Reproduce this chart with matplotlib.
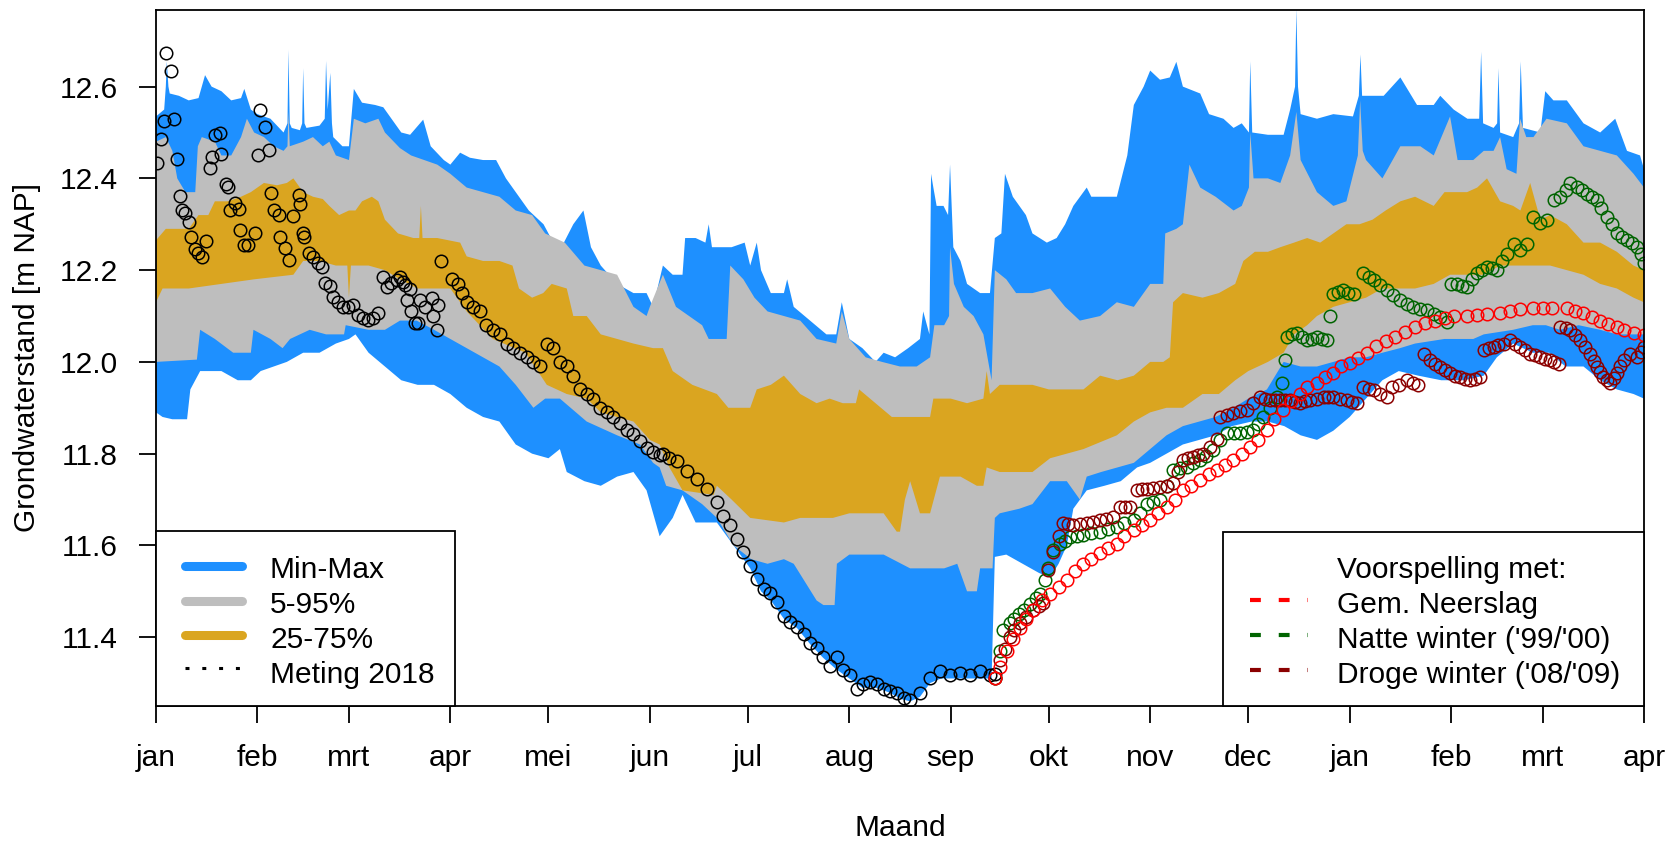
import numpy as np
import matplotlib.pyplot as plt
from matplotlib.patches import Rectangle
from matplotlib.lines import Line2D

plt.rcParams['font.family'] = ['Liberation Sans', 'DejaVu Sans']

# x as days since 1 jan 2018
month_start = [0, 31, 59, 90, 120, 151, 181, 212, 243, 273, 304, 334, 365, 396, 424, 455]
month_label = ['jan', 'feb', 'mrt', 'apr', 'mei', 'jun', 'jul', 'aug', 'sep', 'okt',
               'nov', 'dec', 'jan', 'feb', 'mrt', 'apr']
y_ticks = [11.4, 11.6, 11.8, 12.0, 12.2, 12.4, 12.6]

# Min-Max band
max_d = [0, 2.5, 3.0, 3.3, 3.8, 4.2, 7, 10, 13, 15, 17, 20, 23, 26, 27, 29, 31, 35, 39, 40.2, 40.5, 40.9,
         41.5, 44, 44.7, 45, 45.4, 46, 50, 51.6, 52, 52.5, 53.3, 53.8, 54.2, 57, 59, 60.5, 63, 67, 69.5,
         71.5, 75, 77.7, 81.7, 84, 88, 90, 93, 96, 100, 104, 107, 110, 114, 118.5, 121.5, 124, 127.6,
         130.7, 133, 136, 141, 146, 150, 152, 155, 158, 161, 161.8, 165, 168, 169, 170, 174.5, 176, 180,
         181.7, 183.7, 185, 188, 192, 193, 195, 200, 205, 208, 209.7, 212, 216, 220, 222.5, 226, 230,
         233.6, 234.6, 236.5, 237.0, 237.7, 238.7, 240.8, 242.2, 242.8, 243.8, 246, 248, 252, 255, 256.5,
         258.5, 259.6, 262, 266, 268, 272.4, 275.4, 278, 280.5, 284.6, 286, 288.7, 293.8, 297, 299, 302,
         304, 307, 310, 312, 314, 319.3, 322, 326.4, 329.5, 332, 334.2, 334.6, 335.2, 340, 344.8, 346.8,
         348.3, 348.7, 349.2, 350, 355, 360, 366, 367.8, 368.3, 368.8, 370.3, 375.4, 380.5, 385.6, 390.7,
         392.7, 396.8, 401, 404.6, 405.2, 405.8, 409, 410.1, 410.5, 411, 415, 416.8, 417.3, 418, 423.3,
         424.8, 427.3, 431.4, 436.5, 441.6, 446.2, 449.8, 453.8, 455]
max_v = [12.535, 12.55, 12.60, 12.655, 12.60, 12.585, 12.58, 12.57, 12.575, 12.625, 12.60, 12.59, 12.57,
         12.575, 12.595, 12.55, 12.54, 12.53, 12.50, 12.52, 12.68, 12.52, 12.51, 12.505, 12.52, 12.64,
         12.52, 12.51, 12.515, 12.53, 12.656, 12.55, 12.63, 12.52, 12.49, 12.47, 12.47, 12.595, 12.565,
         12.56, 12.555, 12.535, 12.50, 12.495, 12.528, 12.47, 12.44, 12.43, 12.456, 12.445, 12.44, 12.44,
         12.40, 12.37, 12.33, 12.30, 12.26, 12.25, 12.30, 12.33, 12.25, 12.21, 12.17, 12.15, 12.15, 12.12,
         12.21, 12.19, 12.19, 12.27, 12.27, 12.26, 12.30, 12.25, 12.25, 12.25, 12.26, 12.21, 12.26, 12.20,
         12.15, 12.15, 12.18, 12.12, 12.09, 12.06, 12.06, 12.13, 12.05, 12.03, 12.00, 12.02, 12.01, 12.03,
         12.05, 12.11, 12.06, 12.41, 12.38, 12.34, 12.34, 12.32, 12.43, 12.25, 12.22, 12.17, 12.15, 12.15,
         12.27, 12.28, 12.41, 12.36, 12.32, 12.28, 12.26, 12.27, 12.30, 12.34, 12.38, 12.36, 12.36, 12.36,
         12.45, 12.56, 12.60, 12.635, 12.615, 12.62, 12.654, 12.60, 12.585, 12.54, 12.53, 12.51, 12.52,
         12.50, 12.655, 12.50, 12.495, 12.495, 12.55, 12.60, 12.77, 12.60, 12.54, 12.53, 12.54, 12.535,
         12.58, 12.67, 12.58, 12.58, 12.58, 12.62, 12.56, 12.56, 12.58, 12.55, 12.53, 12.53, 12.676, 12.52,
         12.51, 12.52, 12.64, 12.50, 12.49, 12.52, 12.655, 12.51, 12.50, 12.59, 12.57, 12.57, 12.52, 12.50,
         12.53, 12.46, 12.45, 12.42]
min_d = [0, 2, 5, 9.5, 10.5, 12, 13.5, 20, 25, 29, 32, 40, 45, 50, 55, 59, 61, 65, 70, 75, 80, 85, 90,
         95, 100, 105, 110, 115, 120, 123.5, 125.6, 131, 136, 141, 146, 150, 152, 154, 158, 161, 165,
         171.5, 176.6, 181.7, 185, 188, 192, 196, 200, 204, 208, 212, 216, 220, 224, 228, 230.6, 233.6,
         236.7, 240, 245, 250, 255.5, 256.5, 260, 265, 270, 273.4, 276, 278.5, 280.5, 284.6, 290, 295, 300,
         304, 309, 314, 319, 324, 329, 335, 340, 345, 350, 355, 360, 365, 370, 375, 380, 386, 393, 400,
         406, 410, 415, 421, 426, 431, 436.5, 441.6, 446.7, 451.8, 455]
min_v = [11.89, 11.88, 11.875, 11.875, 11.94, 11.96, 11.98, 11.98, 11.96, 11.96, 11.98, 12.00, 12.02,
         12.02, 12.04, 12.05, 12.06, 12.02, 11.99, 11.96, 11.95, 11.95, 11.93, 11.90, 11.88, 11.87, 11.82,
         11.80, 11.79, 11.81, 11.76, 11.74, 11.73, 11.75, 11.76, 11.72, 11.67, 11.62, 11.66, 11.71, 11.65,
         11.65, 11.60, 11.55, 11.50, 11.48, 11.44, 11.42, 11.385, 11.355, 11.33, 11.31, 11.29, 11.29, 11.28,
         11.265, 11.26, 11.27, 11.30, 11.31, 11.31, 11.31, 11.31, 11.575, 11.58, 11.56, 11.54, 11.53,
         11.56, 11.60, 11.68, 11.72, 11.73, 11.74, 11.77, 11.78, 11.80, 11.82, 11.83, 11.84, 11.86, 11.87,
         11.87, 11.86, 11.84, 11.83, 11.85, 11.88, 11.92, 11.96, 11.98, 11.97, 11.96, 11.96, 11.97, 12.01,
         12.04, 12.02, 12.02, 11.99, 11.99, 11.96, 11.94, 11.93, 11.92]

# 5-95% band
p95_d = [0, 3, 5, 6.5, 9, 12, 12.8, 14, 18, 20, 23, 26, 27.8, 30, 33, 36, 39, 40.2, 40.5, 40.9, 45, 48,
         51, 53, 55, 59, 60.5, 64, 68, 70, 74.6, 78, 82, 86, 90, 95, 100, 105, 110, 115, 119, 125, 131,
         136, 141, 146, 150, 151, 155, 159, 163, 167, 169, 174.5, 175.6, 179.6, 183, 187, 192, 197, 202,
         208, 209.7, 212, 217, 222, 227.5, 232.6, 236.7, 238, 241, 242.5, 242.8, 244, 247, 250, 253,
         255.5, 256.5, 260, 263, 268, 273.4, 278, 282.5, 288.7, 293.8, 299, 304, 308, 308.6, 312, 314,
         316, 319.3, 324, 329.5, 332, 334.2, 334.6, 335.6, 340, 343.8, 346.8, 348.7, 350, 355, 360, 364,
         367.5, 368.2, 369, 370, 375, 380.5, 386.6, 390.7, 395.7, 398, 402.8, 406, 409, 411, 413, 416,
         417.1, 419, 421.2, 425.2, 431.4, 436.5, 441.6, 446.7, 451.8, 455]
p95_v = [12.48, 12.49, 12.46, 12.40, 12.37, 12.37, 12.47, 12.49, 12.48, 12.45, 12.45, 12.49, 12.53,
         12.50, 12.49, 12.47, 12.46, 12.47, 12.545, 12.47, 12.48, 12.49, 12.47, 12.48, 12.45, 12.44, 12.53,
         12.52, 12.53, 12.50, 12.466, 12.45, 12.44, 12.43, 12.41, 12.38, 12.37, 12.36, 12.33, 12.32, 12.28,
         12.26, 12.21, 12.20, 12.19, 12.12, 12.10, 12.12, 12.19, 12.12, 12.10, 12.08, 12.05, 12.05, 12.21,
         12.18, 12.14, 12.11, 12.10, 12.09, 12.05, 12.04, 12.11, 12.05, 12.01, 12.00, 11.99, 11.99, 12.01,
         12.08, 12.08, 12.10, 12.25, 12.17, 12.12, 12.10, 12.06, 11.96, 12.20, 12.18, 12.15, 12.15, 12.16,
         12.12, 12.09, 12.10, 12.13, 12.12, 12.17, 12.17, 12.28, 12.29, 12.30, 12.43, 12.38, 12.36, 12.33,
         12.34, 12.38, 12.50, 12.40, 12.40, 12.39, 12.45, 12.545, 12.44, 12.37, 12.34, 12.35, 12.45, 12.57,
         12.46, 12.44, 12.40, 12.47, 12.47, 12.45, 12.535, 12.44, 12.44, 12.46, 12.46, 12.49, 12.42, 12.41,
         12.53, 12.49, 12.49, 12.53, 12.52, 12.47, 12.46, 12.45, 12.41, 12.38]
p05_d = [0, 12.5, 13.5, 18, 23.6, 29, 29.8, 35, 38.7, 41, 47, 52, 57.5, 58, 65, 70, 74.6, 79.7, 85, 95,
         105, 110, 115.4, 119, 123.5, 131.7, 141, 148, 152, 154, 156, 161, 167, 171.5, 176.6, 182, 187,
         192, 195, 202, 204.1, 207.5, 208.2, 212, 222.5, 230.6, 236, 241, 245, 248, 251, 252, 255.8, 256.5,
         258, 264, 268, 273.4, 278.5, 282.5, 284.6, 289, 294, 299, 304, 309, 314, 319, 324, 329.5, 334,
         339.7, 344.8, 350, 355, 360, 365, 370, 375, 380.4, 385, 394, 402.8, 406, 415, 421, 425, 429.3,
         435, 441.6, 446.7, 451.8, 455]
p05_v = [12.00, 12.005, 12.07, 12.05, 12.02, 12.02, 12.07, 12.05, 12.03, 12.05, 12.07, 12.06, 12.06,
         12.08, 12.07, 12.07, 12.09, 12.09, 12.07, 12.03, 11.99, 11.95, 11.90, 11.92, 11.92, 11.87, 11.84,
         11.82, 11.78, 11.77, 11.73, 11.72, 11.69, 11.66, 11.60, 11.57, 11.56, 11.57, 11.56, 11.48, 11.47,
         11.47, 11.56, 11.58, 11.58, 11.55, 11.55, 11.55, 11.56, 11.50, 11.50, 11.55, 11.55, 11.66, 11.67,
         11.68, 11.69, 11.74, 11.74, 11.70, 11.75, 11.76, 11.77, 11.78, 11.81, 11.84, 11.86, 11.87, 11.88,
         11.90, 11.92, 11.94, 12.00, 11.99, 11.99, 12.00, 12.01, 12.01, 12.02, 12.03, 12.04, 12.05, 12.05,
         12.06, 12.07, 12.08, 12.08, 12.07, 12.08, 12.07, 12.06, 12.06, 12.06]

# 25-75% band
p75_d = [0, 3, 10, 13, 16, 18, 22, 26, 29, 33, 37, 40, 42, 45, 48, 51, 53, 56, 59, 61, 63, 66, 68, 70,
         74, 78.7, 80.5, 81, 81.5, 86, 93, 95, 100, 105, 109, 111, 115, 118.4, 121, 125.6, 127.6, 131.7,
         136, 141, 146, 152, 155, 158, 164, 171.5, 175, 181.7, 183.7, 188, 192, 197, 202, 206, 210, 214,
         215, 220, 225, 231, 236.7, 237.7, 243, 248, 253, 254, 255, 258, 263, 268, 273, 278, 283.6, 288.7,
         294, 299, 304, 308, 310, 311, 314, 320, 325, 330, 332.5, 336, 340, 343.8, 348, 352, 356, 360,
         364, 368, 372, 376, 380.5, 385, 390.7, 394, 400.9, 404, 407, 411, 415, 417.2, 420.2, 423.3,
         426.3, 431.4, 436.5, 441.6, 446.7, 451.8, 455]
p75_v = [12.265, 12.29, 12.29, 12.32, 12.32, 12.35, 12.35, 12.36, 12.37, 12.39, 12.385, 12.39, 12.40,
         12.37, 12.36, 12.355, 12.34, 12.32, 12.33, 12.33, 12.35, 12.36, 12.35, 12.31, 12.28, 12.27, 12.27,
         12.34, 12.27, 12.27, 12.26, 12.23, 12.22, 12.22, 12.21, 12.16, 12.14, 12.15, 12.17, 12.16, 12.10,
         12.10, 12.06, 12.05, 12.04, 12.03, 12.03, 11.98, 11.95, 11.93, 11.90, 11.90, 11.94, 11.95, 11.97,
         11.93, 11.91, 11.92, 11.91, 11.91, 11.94, 11.91, 11.88, 11.88, 11.88, 11.92, 11.92, 11.91, 11.92,
         11.98, 11.93, 11.95, 11.95, 11.95, 11.94, 11.94, 11.94, 11.97, 11.96, 11.97, 12.00, 12.00, 12.01,
         12.13, 12.15, 12.14, 12.15, 12.17, 12.22, 12.24, 12.24, 12.25, 12.26, 12.27, 12.26, 12.28, 12.30,
         12.30, 12.31, 12.33, 12.35, 12.36, 12.34, 12.37, 12.37, 12.38, 12.40, 12.35, 12.34, 12.33, 12.39,
         12.31, 12.32, 12.30, 12.26, 12.26, 12.24, 12.21, 12.20]
p25_d = [0, 2, 10, 20, 30, 42, 45, 50, 55, 58.5, 59, 59.6, 65, 70, 74.6, 80, 90, 95, 103, 113, 119.5,
         125.6, 131.7, 136, 146, 151, 154, 157, 161, 170.5, 171.5, 176, 181.7, 192, 197, 207, 212, 222.5,
         226.5, 227.5, 229, 230.6, 233.6, 236.7, 239.7, 246, 251, 253, 254, 258, 268, 273.4, 283.6, 293.8,
         299, 304, 309, 314, 320, 325, 330, 334, 340, 344.8, 348, 352, 355, 360, 365, 370, 375, 380.5, 385,
         390.7, 395.7, 400.9, 405.9, 411, 416, 421.2, 426.3, 431.4, 436.5, 441.6, 446.7, 451.8, 455]
p25_v = [12.13, 12.16, 12.16, 12.17, 12.18, 12.19, 12.22, 12.22, 12.21, 12.21, 12.14, 12.21, 12.21,
         12.20, 12.18, 12.16, 12.16, 12.11, 12.05, 12.02, 11.95, 11.93, 11.92, 11.89, 11.87, 11.83, 11.82,
         11.77, 11.72, 11.71, 11.73, 11.70, 11.66, 11.65, 11.66, 11.66, 11.67, 11.67, 11.63, 11.63, 11.70,
         11.74, 11.67, 11.67, 11.75, 11.75, 11.73, 11.73, 11.77, 11.76, 11.76, 11.79, 11.81, 11.84, 11.87,
         11.89, 11.90, 11.90, 11.93, 11.93, 11.96, 11.98, 12.00, 12.02, 12.06, 12.08, 12.10, 12.12, 12.13,
         12.14, 12.16, 12.16, 12.16, 12.17, 12.19, 12.19, 12.19, 12.21, 12.21, 12.21, 12.21, 12.20, 12.19,
         12.17, 12.16, 12.14, 12.13]

# Meting 2018
meting_d = [0.2, 1.4, 2.4, 3.1, 4.5, 5.5, 6.5, 7.3, 7.9, 8.9, 10.1, 10.7, 11.9, 12.9, 14.0, 15.2, 16.5,
            17.0, 18.0, 19.6, 19.8, 21.3, 22.1, 22.6, 24.2, 25.5, 25.7, 26.9, 28.2, 30.3, 31.3, 31.8, 33.3,
            34.7, 35.1, 36.1, 37.5, 37.9, 39.4, 40.8, 42.0, 43.6, 44.0, 45.0, 45.4, 46.9, 48.1, 49.6, 50.7,
            51.7, 53.2, 54.2, 55.8, 57.3, 58.8, 60.3, 61.8, 63.4, 64.9, 66.5, 68.0, 69.3, 70.7, 72.0, 73.6,
            74.6, 75.6, 76.1, 76.7, 77.7, 78.0, 79.2, 80.2, 80.7, 82.2, 84.3, 84.8, 85.8, 86.3, 87.3, 90.4,
            92.4, 93.5, 95, 97, 99, 101, 103.1, 105.2, 107.2, 109.3, 111.3, 113.3, 115.4, 117.4, 119.5,
            121.5, 123.5, 125.6, 127.6, 129.6, 131.7, 133.7, 135.8, 137.8, 139.8, 141.9, 143.9, 146, 148,
            150, 152.1, 154.1, 155, 157, 159.3, 162.3, 165.4, 168.4, 171.5, 173.5, 175.6, 177.6, 179.6,
            181.7, 183.7, 185.8, 187.8, 189.8, 191.9, 193.9, 196, 198, 200, 202, 204, 206.1, 208.2, 210.2,
            212.3, 214.3, 216.3, 218.4, 220.4, 222.5, 224.5, 226.5, 228.6, 230.6, 233.6, 236.7, 239.7,
            242.8, 245.8, 248.9, 252, 255, 256.5]
meting_v = [12.434, 12.486, 12.526, 12.673, 12.633, 12.529, 12.442, 12.362, 12.331, 12.324, 12.304,
            12.273, 12.246, 12.237, 12.229, 12.264, 12.422, 12.447, 12.495, 12.498, 12.453, 12.387, 12.382,
            12.330, 12.346, 12.333, 12.288, 12.255, 12.255, 12.280, 12.451, 12.549, 12.513, 12.462, 12.368,
            12.330, 12.320, 12.272, 12.248, 12.222, 12.317, 12.364, 12.344, 12.280, 12.272, 12.237, 12.229,
            12.215, 12.207, 12.171, 12.165, 12.142, 12.131, 12.120, 12.120, 12.124, 12.102, 12.095, 12.091,
            12.095, 12.106, 12.186, 12.164, 12.171, 12.179, 12.186, 12.174, 12.168, 12.135, 12.159, 12.110,
            12.084, 12.085, 12.135, 12.120, 12.140, 12.100, 12.070, 12.125, 12.219, 12.18, 12.17, 12.15,
            12.13, 12.12, 12.11, 12.08, 12.07, 12.06, 12.04, 12.03, 12.02, 12.01, 12.00, 11.99, 12.04,
            12.03, 12.00, 11.99, 11.97, 11.94, 11.93, 11.92, 11.90, 11.89, 11.88, 11.867, 11.852, 11.842,
            11.828, 11.813, 11.803, 11.798, 11.80, 11.79, 11.783, 11.763, 11.744, 11.724, 11.694, 11.664,
            11.645, 11.615, 11.585, 11.555, 11.526, 11.506, 11.496, 11.476, 11.446, 11.432, 11.422, 11.407,
            11.387, 11.377, 11.357, 11.338, 11.357, 11.328, 11.318, 11.288, 11.298, 11.303, 11.298, 11.288,
            11.283, 11.278, 11.268, 11.263, 11.278, 11.31, 11.327, 11.318, 11.323, 11.318, 11.327, 11.318,
            11.32]

# Voorspelling: gemiddelde neerslag
gem_d = [256.5, 258, 260.1, 262, 264.2, 266, 268.3, 271, 273.4, 276, 278.5, 281, 283.6, 286, 288.7, 291,
         293.8, 296, 298.9, 301.5, 304, 306.5, 309, 311.5, 314.1, 316.5, 319.2, 322, 324.3, 327, 329.4,
         332, 334.5, 337, 339.6, 342, 344.7, 347, 349.8, 352, 354.9, 357.5, 360, 362.5, 365.1, 367.5,
         370.2, 373, 376, 379, 382, 385, 388, 391, 394, 397, 400.9, 404, 407, 411, 414, 417, 421.2, 424,
         427, 431.4, 434, 436.5, 439, 441.6, 444, 446.7, 449, 451.8, 455]
gem_v = [11.31, 11.335, 11.37, 11.395, 11.42, 11.44, 11.46, 11.48, 11.495, 11.51, 11.524, 11.545, 11.56,
         11.57, 11.583, 11.595, 11.604, 11.62, 11.633, 11.645, 11.655, 11.67, 11.684, 11.70, 11.721,
         11.73, 11.742, 11.755, 11.764, 11.775, 11.786, 11.80, 11.815, 11.83, 11.852, 11.875, 11.895,
         11.915, 11.931, 11.945, 11.955, 11.968, 11.975, 11.99, 11.997, 12.008, 12.02, 12.035, 12.045,
         12.055, 12.065, 12.075, 12.085, 12.09, 12.095, 12.10, 12.10, 12.103, 12.105, 12.106, 12.11,
         12.115, 12.117, 12.118, 12.118, 12.117, 12.112, 12.106, 12.098, 12.09, 12.082, 12.077, 12.07,
         12.062, 12.058]

# Voorspelling: natte winter ('99/'00)
nat_d = [256.5, 258, 259, 261, 262.5, 264, 265.5, 267.3, 269, 270.3, 271.8, 272.9, 274.4, 276.4, 278,
         279.5, 281.5, 283.6, 286, 288.7, 291, 293.8, 296, 298.9, 301, 303, 305, 307, 309, 311.1, 313,
         315.2, 317, 319.2, 321, 323.3, 325.5, 327.4, 329.5, 331.5, 333.5, 335.5, 337, 338.6, 340.6, 342.7,
         344.2, 345.2, 345.8, 347.4, 348.9, 350.4, 351.9, 353.5, 355, 356.5, 358, 359, 360, 361.5, 363.1,
         364.6, 366.2, 369.2, 370.8, 372.3, 374.4, 376.4, 378.4, 380.5, 382.5, 384.5, 386.6, 388.6, 390.7,
         392.7, 394.7, 396, 397.8, 399.5, 400.9, 402.5, 403.9, 405.5, 407, 408.5, 410, 411.5, 413, 415.1,
         417.2, 419.2, 421.2, 423.3, 425.3, 427.4, 429.4, 431, 432.5, 434.5, 436, 437.5, 439, 440.6, 442,
         443.7, 445.2, 446.7, 448.3, 449.8, 451.3, 452.8, 454, 455]
nat_v = [11.31, 11.37, 11.415, 11.43, 11.44, 11.45, 11.46, 11.473, 11.485, 11.495, 11.524, 11.55, 11.59,
         11.604, 11.61, 11.619, 11.62, 11.622, 11.626, 11.63, 11.635, 11.64, 11.648, 11.655, 11.67, 11.69,
         11.695, 11.70, 11.73, 11.764, 11.768, 11.772, 11.78, 11.786, 11.795, 11.808, 11.83, 11.844,
         11.844, 11.844, 11.848, 11.852, 11.865, 11.88, 11.90, 11.924, 11.953, 12.004, 12.055, 12.06,
         12.062, 12.055, 12.047, 12.05, 12.055, 12.05, 12.047, 12.10, 12.149, 12.152, 12.156, 12.15,
         12.149, 12.193, 12.185, 12.178, 12.167, 12.156, 12.145, 12.135, 12.127, 12.12, 12.116, 12.113,
         12.105, 12.098, 12.087, 12.17, 12.17, 12.165, 12.164, 12.18, 12.193, 12.20, 12.207, 12.205, 12.20,
         12.22, 12.236, 12.258, 12.244, 12.258, 12.316, 12.302, 12.309, 12.353, 12.36, 12.375, 12.389,
         12.382, 12.375, 12.367, 12.36, 12.353, 12.335, 12.316, 12.30, 12.28, 12.272, 12.266, 12.26,
         12.251, 12.235, 12.215]

# Voorspelling: droge winter ('08/'09)
droog_d = [256.5, 258, 259.5, 261, 262.5, 264.2, 266, 268.3, 270, 271.3, 272.9, 274.4, 276, 277.4, 279,
           280.5, 282.5, 284.6, 286.5, 288.7, 290.5, 292.7, 294.8, 296.3, 297.8, 299.9, 301.5, 302.9, 305,
           307, 309, 311.1, 312.5, 314.1, 315.5, 317.2, 318.7, 320.3, 322.3, 324.3, 325.4, 327.4, 329.4,
           331.5, 333.5, 335.5, 337.6, 339.1, 340.6, 342.2, 343.7, 345.2, 346.8, 348.3, 349.8, 351.3,
           352.9, 355, 357, 358.5, 360, 362, 364.1, 365.6, 367.2, 369.2, 370.8, 372.3, 374.3, 376.3, 378,
           380, 382.5, 384.5, 386, 387.6, 389.6, 391, 392.7, 394.2, 395.8, 397.3, 398.8, 400.4, 401.9,
           403.4, 404.9, 406, 407.5, 409, 410.5, 412.1, 414.1, 415.6, 417.2, 418.7, 420.2, 421.7, 423.3,
           424.8, 426.3, 427.6, 428.9, 429.4, 431, 432.5, 434, 435.5, 437, 438.6, 439.6, 440.6, 441.6,
           442.6, 443.6, 444.7, 445.7, 446.7, 447.8, 448.8, 450.8, 452.8, 454, 455]
droog_v = [11.31, 11.35, 11.375, 11.40, 11.415, 11.43, 11.445, 11.46, 11.468, 11.474, 11.546, 11.586,
           11.62, 11.648, 11.646, 11.644, 11.646, 11.648, 11.652, 11.655, 11.658, 11.662, 11.684, 11.684,
           11.684, 11.721, 11.722, 11.724, 11.726, 11.728, 11.73, 11.735, 11.76, 11.786, 11.79, 11.793,
           11.797, 11.80, 11.815, 11.833, 11.88, 11.885, 11.888, 11.892, 11.895, 11.91, 11.924, 11.92,
           11.917, 11.917, 11.917, 11.917, 11.917, 11.913, 11.91, 11.914, 11.917, 11.92, 11.924, 11.924,
           11.924, 11.92, 11.917, 11.913, 11.91, 11.946, 11.942, 11.939, 11.93, 11.924, 11.945, 11.95,
           11.96, 11.953, 11.95, 12.018, 12.004, 11.995, 11.989, 11.982, 11.975, 11.97, 11.967, 11.963,
           11.96, 11.963, 11.967, 12.026, 12.03, 12.033, 12.037, 12.04, 12.047, 12.04, 12.033, 12.025,
           12.018, 12.015, 12.011, 12.007, 12.004, 12.0, 11.996, 12.077, 12.073, 12.069, 12.058, 12.047,
           12.032, 12.018, 12.003, 11.989, 11.978, 11.967, 11.96, 11.953, 11.964, 11.975, 11.99, 12.004,
           12.018, 12.011, 12.022, 12.033]

W, H = 1679, 842
L, R, T, B = 156, 1644, 10, 706
fs = 21.5

fig = plt.figure(figsize=(W / 100, H / 100), dpi=100)
ax = fig.add_axes([L / W, 1 - B / H, (R - L) / W, (B - T) / H])


def band(lo_d, lo_v, hi_d, hi_v, color):
    x = np.r_[hi_d, lo_d[::-1]]
    y = np.r_[hi_v, lo_v[::-1]]
    ax.fill(x, y, color=color, linewidth=0)


band(min_d, min_v, max_d, max_v, 'dodgerblue')
band(p05_d, p05_v, p95_d, p95_v, '#BEBEBE')
band(p25_d, p25_v, p75_d, p75_v, 'goldenrod')

mk = dict(ls='none', marker='o', mfc='none', ms=9, mew=1.1)
ax.plot(meting_d, meting_v, mec='black', **mk)
ax.plot(nat_d, nat_v, mec='darkgreen', **mk)
ax.plot(droog_d, droog_v, mec='darkred', **mk)
ax.plot(gem_d, gem_v, mec='red', **mk)

ax.set_xlim(0, 455)
ax.set_ylim(11.25, 12.767)
ax.set_xticks(month_start)
ax.set_xticklabels(month_label)
ax.set_yticks(y_ticks)
ax.set_yticklabels(['%.1f' % v for v in y_ticks])
ax.tick_params(direction='out', length=12.5, width=1.3, labelsize=fs, colors='black')
ax.tick_params(axis='x', pad=15)
ax.tick_params(axis='y', pad=15)
for s in ax.spines.values():
    s.set_linewidth(1.3)

ax.set_xlabel('Maand', fontsize=fs)
ax.xaxis.set_label_coords(0.5, (B - 828) / (B - T))
ax.xaxis.label.set_verticalalignment('center')
ax.set_ylabel('Grondwaterstand [m NAP]', fontsize=fs)
ax.yaxis.set_label_coords((27.5 - L) / (R - L), 0.5)
ax.yaxis.label.set_verticalalignment('center')


# legends, drawn in image pixel coordinates
def fx(x):
    return x / W


def fy(y):
    return 1 - y / H


def legend_box(x0, y0, x1, y1):
    fig.patches.append(Rectangle((fx(x0), fy(y1)), fx(x1) - fx(x0), fy(y0) - fy(y1),
                                 transform=fig.transFigure, facecolor='white',
                                 edgecolor='black', linewidth=1.3, zorder=5))


def legend_line(x0, x1, y, **kw):
    fig.lines.append(Line2D([fx(x0), fx(x1)], [fy(y), fy(y)], transform=fig.transFigure,
                            zorder=6, **kw))


legend_box(L, 531, 455, B)
legend_line(185, 242, 566, color='dodgerblue', lw=6.5, solid_capstyle='round')
legend_line(185, 242, 601, color='#BEBEBE', lw=6.5, solid_capstyle='round')
legend_line(185, 242, 635, color='goldenrod', lw=6.5, solid_capstyle='round')
legend_line(185, 240, 668, color='black', lw=2.2, dashes=(1.3, 4.2))
for lab, yb in zip(['Min-Max', '5-95%', '25-75%', 'Meting 2018'], [578, 613, 648, 683]):
    fig.text(fx(270), fy(yb), lab, fontsize=fs, ha='left', va='baseline', zorder=7)

legend_box(1222.7, 531.7, R, B)
legend_line(1250, 1308, 600, color='red', lw=3, dashes=(2.6, 4.3))
legend_line(1250, 1308, 635, color='darkgreen', lw=3, dashes=(2.6, 4.3))
legend_line(1250, 1308, 670, color='darkred', lw=3, dashes=(2.6, 4.3))
for lab, yb in zip(['Voorspelling met:', 'Gem. Neerslag', "Natte winter ('99/'00)",
                    "Droge winter ('08/'09)"], [578, 613, 648, 683]):
    fig.text(fx(1336.7), fy(yb), lab, fontsize=fs, ha='left', va='baseline', zorder=7)

fig.savefig('out.png', dpi=100)
